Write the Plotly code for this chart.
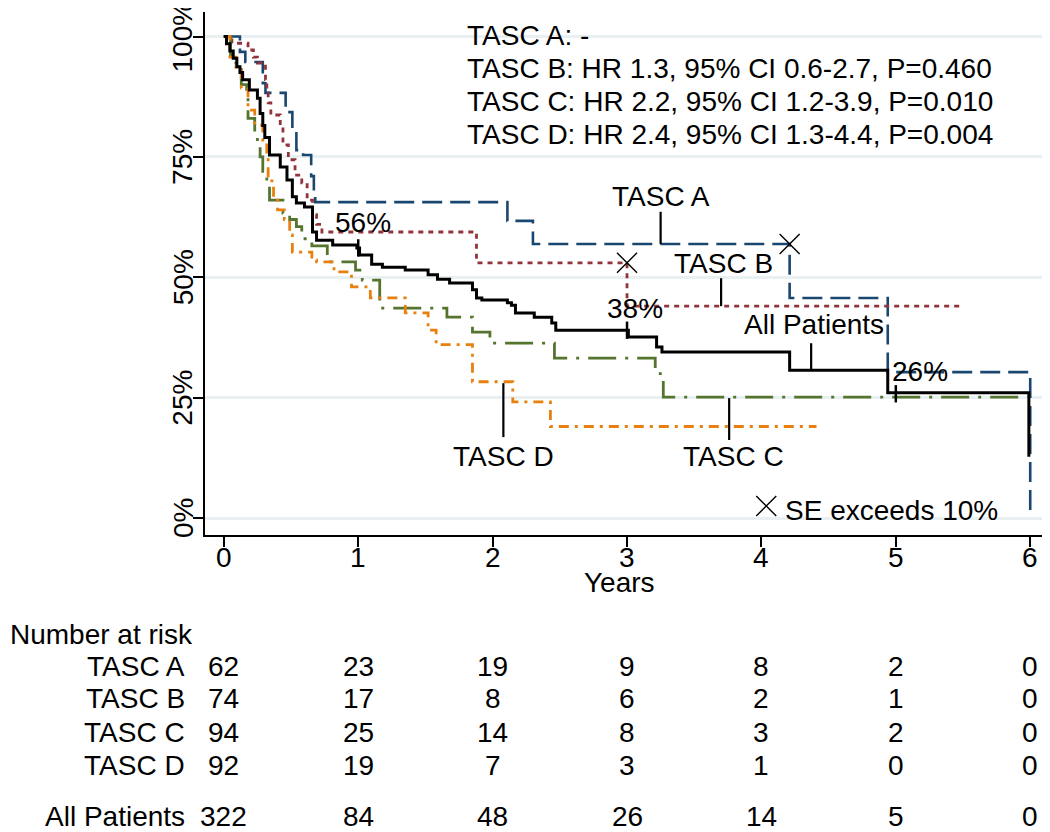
import plotly.graph_objects as go

# ---------------- data ----------------
years_ticks = [0, 1, 2, 3, 4, 5, 6]
pct_ticks = [0, 0.25, 0.5, 0.75, 1.0]
pct_labels = ["0%", "25%", "50%", "75%", "100%"]

tasc_a_t = [0, 0.12, 0.16, 0.29, 0.31, 0.46, 0.51, 0.54, 0.59, 0.65, 0.67, 0.68, 2.11, 2.30, 4.21, 4.94, 6.00]
tasc_a_s = [1.0, 0.968, 0.947, 0.903, 0.883, 0.843, 0.81, 0.764, 0.754, 0.71, 0.67, 0.656, 0.617, 0.569, 0.457, 0.303, 0.0]

tasc_b_t = [0, 0.06, 0.18, 0.22, 0.25, 0.31, 0.32, 0.33, 0.35, 0.42, 0.44, 0.48, 0.53, 0.58, 0.62, 0.66, 0.69, 0.73, 1.88, 3.00, 5.48]
tasc_b_s = [1.0, 0.986, 0.972, 0.957, 0.945, 0.91, 0.883, 0.862, 0.837, 0.812, 0.775, 0.744, 0.712, 0.696, 0.66, 0.63, 0.61, 0.594, 0.53, 0.44, 0.44]

tasc_c_t = [0, 0.05, 0.09, 0.13, 0.17, 0.18, 0.23, 0.25, 0.27, 0.29, 0.32, 0.34, 0.44, 0.49, 0.54, 0.58, 0.655, 0.77, 0.98, 1.03, 1.16, 1.66, 1.85, 1.98, 2.46, 3.21, 3.27, 5.98]
tasc_c_s = [1.0, 0.96, 0.94, 0.9, 0.872, 0.83, 0.80, 0.778, 0.75, 0.72, 0.70, 0.66, 0.633, 0.62, 0.605, 0.58, 0.565, 0.532, 0.515, 0.494, 0.436, 0.417, 0.386, 0.363, 0.332, 0.30, 0.251, 0.251]

tasc_d_t = [0, 0.045, 0.09, 0.13, 0.18, 0.23, 0.29, 0.32, 0.33, 0.37, 0.40, 0.45, 0.49, 0.51, 0.655, 0.69, 0.82, 0.95, 1.09, 1.35, 1.52, 1.58, 1.85, 2.15, 2.43, 4.41]
tasc_d_s = [1.0, 0.957, 0.93, 0.893, 0.847, 0.816, 0.785, 0.75, 0.70, 0.67, 0.64, 0.62, 0.588, 0.552, 0.536, 0.532, 0.511, 0.48, 0.457, 0.426, 0.39, 0.36, 0.283, 0.241, 0.19, 0.19]

all_t = [0, 0.02, 0.045, 0.07, 0.097, 0.12, 0.14, 0.19, 0.25, 0.27, 0.29, 0.305, 0.34, 0.42, 0.47, 0.51, 0.54, 0.60,
         0.66, 0.69, 0.81, 0.99, 1.01, 1.10, 1.18, 1.35, 1.52, 1.59, 1.68, 1.85, 1.88, 1.92, 2.11, 2.14, 2.17, 2.31,
         2.44, 2.47, 3.01, 3.22, 3.26, 4.21, 4.94, 5.99]
all_s = [1.0, 0.985, 0.97, 0.955, 0.937, 0.925, 0.91, 0.889, 0.872, 0.84, 0.815, 0.79, 0.754, 0.729, 0.702, 0.667, 0.654, 0.646,
         0.594, 0.577, 0.567, 0.561, 0.546, 0.527, 0.521, 0.515, 0.505, 0.496, 0.488, 0.474, 0.457, 0.453, 0.447, 0.442, 0.426, 0.417,
         0.405, 0.39, 0.376, 0.355, 0.345, 0.307, 0.26, 0.127]

# SE exceeds 10% markers
se_x = [3.0, 4.21]
se_y = [0.53, 0.569]

# survival labels on the all-patients curve
mark_years = [1, 3, 5]
mark_values = [0.561, 0.39, 0.258]
mark_labels = ["56%", "38%", "26%"]
mark_label_x = [1.035, 3.06, 5.18]
mark_label_y = [0.613, 0.436, 0.305]

# curve labels with leader lines
curve_labels = ["TASC A", "TASC B", "All Patients", "TASC C", "TASC D"]
curve_label_x = [3.25, 3.72, 4.39, 3.79, 2.08]
curve_label_y = [0.667, 0.528, 0.401, 0.127, 0.127]
leader_x = [3.25, 3.70, 4.37, 3.76, 2.08]
leader_y0 = [0.636, 0.498, 0.363, 0.249, 0.280]
leader_y1 = [0.569, 0.440, 0.307, 0.162, 0.168]

hr_lines = ["TASC A: -",
            "TASC B: HR 1.3, 95% CI 0.6-2.7, P=0.460",
            "TASC C: HR 2.2, 95% CI 1.2-3.9, P=0.010",
            "TASC D: HR 2.4, 95% CI 1.3-4.4, P=0.004"]

risk_groups = ["TASC A", "TASC B", "TASC C", "TASC D", "All Patients"]
risk_numbers = [
    [62, 23, 19, 9, 8, 2, 0],
    [74, 17, 8, 6, 2, 1, 0],
    [94, 25, 14, 8, 3, 2, 0],
    [92, 19, 7, 3, 1, 0, 0],
    [322, 84, 48, 26, 14, 5, 0],
]

# ---------------- styling ----------------
FONT = "Liberation Sans, Arial, Helvetica, sans-serif"
FS = 28
OFF = 8  # page body margin
W, H = 1050 - OFF, 832 - OFF
ML = 205 - OFF
MT = 12 - OFF
PLOT_BOTTOM = 535 - OFF
PLOT_RIGHT = 1045 - OFF
MB = H - PLOT_BOTTOM
MR = W - PLOT_RIGHT
plot_h = H - MT - MB
plot_w = W - ML - MR


def py(ref_px):
    """reference pixel row -> paper y"""
    return (PLOT_BOTTOM - (ref_px - OFF)) / plot_h


def pxp(ref_px):
    """reference pixel column -> paper x"""
    return ((ref_px - OFF) - ML) / plot_w


fig = go.Figure()

curves = [
    (tasc_a_t, tasc_a_s, "#1a476f", "20px,8px", 2.6),
    (tasc_b_t, tasc_b_s, "#90353b", "5px,5px", 2.8),
    (tasc_c_t, tasc_c_s, "#55752f", "28px,9px,3px,9px", 2.8),
    (tasc_d_t, tasc_d_s, "#e8800f", "10px,6px,3px,6px", 2.8),
]
for t, s, col, dash, w in curves:
    fig.add_trace(go.Scatter(x=t, y=s, mode="lines", line=dict(color=col, dash=dash, width=w, shape="hv"),
                             showlegend=False, hoverinfo="skip"))

fig.add_trace(go.Scatter(x=all_t, y=all_s, mode="lines", line=dict(color="black", width=3, shape="hv"),
                         showlegend=False, hoverinfo="skip"))

# ticks on the all-patients curve
for xm, vm in zip(mark_years, mark_values):
    fig.add_trace(go.Scatter(x=[xm, xm], y=[vm - 0.018, vm + 0.018], mode="lines",
                             line=dict(color="black", width=2.5), showlegend=False, hoverinfo="skip"))

# leader lines
for lx, y0, y1 in zip(leader_x, leader_y0, leader_y1):
    fig.add_trace(go.Scatter(x=[lx, lx], y=[y0, y1], mode="lines",
                             line=dict(color="black", width=2.2), showlegend=False, hoverinfo="skip"))

# SE markers
fig.add_trace(go.Scatter(x=se_x, y=se_y, mode="markers",
                         marker=dict(symbol="x-thin", size=20, line=dict(color="black", width=1.4)),
                         showlegend=False, hoverinfo="skip"))
# marker for SE note
fig.add_trace(go.Scatter(x=[4.036], y=[0.025], mode="markers",
                         marker=dict(symbol="x-thin", size=20, line=dict(color="black", width=1.4)),
                         showlegend=False, hoverinfo="skip"))

ann = []
for lab, lx, ly in zip(mark_labels, mark_label_x, mark_label_y):
    ann.append(dict(x=lx, y=ly, xref="x", yref="y", text=lab, showarrow=False,
                    xanchor="center", yanchor="middle", font=dict(size=FS)))
for lab, lx, ly in zip(curve_labels, curve_label_x, curve_label_y):
    ann.append(dict(x=lx, y=ly, xref="x", yref="y", text=lab, showarrow=False,
                    xanchor="center", yanchor="middle", font=dict(size=FS)))
ann.append(dict(x=4.16, y=0.016, xref="x", yref="y", text="SE exceeds 10%", showarrow=False,
                xanchor="left", yanchor="middle", font=dict(size=FS)))

hr_y = [35, 68, 101, 134]
for txt, yy in zip(hr_lines, hr_y):
    ann.append(dict(x=pxp(465), y=py(yy), xref="paper", yref="paper", text=txt, showarrow=False,
                    xanchor="left", yanchor="middle", font=dict(size=FS)))

# tick labels (drawn as text so they sit where the reference has them)
for xv in years_ticks:
    ann.append(dict(x=xv, y=py(557), xref="x", yref="paper", text=str(xv), showarrow=False,
                    xanchor="center", yanchor="middle", font=dict(size=FS)))
for yv, yl in zip(pct_ticks, pct_labels):
    ann.append(dict(x=pxp(183), y=yv, xref="paper", yref="y", text=yl, showarrow=False, textangle=-90,
                    xanchor="center", yanchor="middle", font=dict(size=FS)))

# x-axis title
ann.append(dict(x=pxp(619), y=py(582), xref="paper", yref="paper", text="Years", showarrow=False,
                xanchor="center", yanchor="middle", font=dict(size=FS)))

# number at risk table
ann.append(dict(x=pxp(OFF), y=py(634), xref="paper", yref="paper", text="Number at risk", showarrow=False,
                xanchor="left", yanchor="middle", font=dict(size=FS)))
row_y = [666, 699, 732, 765, 816]
for grp, nums, ry in zip(risk_groups, risk_numbers, row_y):
    ann.append(dict(x=pxp(187), y=py(ry), xref="paper", yref="paper", text=grp, showarrow=False,
                    xanchor="right", yanchor="middle", font=dict(size=FS)))
    for xv, n in zip(years_ticks, nums):
        ann.append(dict(x=xv, y=py(ry), xref="x", yref="paper", text=str(n), showarrow=False,
                        xanchor="center", yanchor="middle", font=dict(size=FS)))

fig.update_layout(
    width=W, height=H,
    margin=dict(l=ML, r=MR, t=MT, b=MB, pad=0),
    paper_bgcolor="white", plot_bgcolor="white",
    font=dict(family=FONT, size=FS, color="black"),
    annotations=ann,
    xaxis=dict(range=[-0.14, 6.11], tickvals=years_ticks, ticks="outside", ticklen=10, tickwidth=1.5,
               tickcolor="black", showline=True, linecolor="black", linewidth=1.5, showgrid=False,
               zeroline=False, showticklabels=False),
    yaxis=dict(range=[-0.0353, 1.0509], tickvals=pct_ticks, ticks="outside", ticklen=10, tickwidth=1.5,
               tickcolor="black", showline=True, linecolor="black", linewidth=1.5, showgrid=True,
               gridcolor="#e8f0f2", gridwidth=2.5, zeroline=False, showticklabels=False),
    showlegend=False,
)

fig.write_html("out.html")
